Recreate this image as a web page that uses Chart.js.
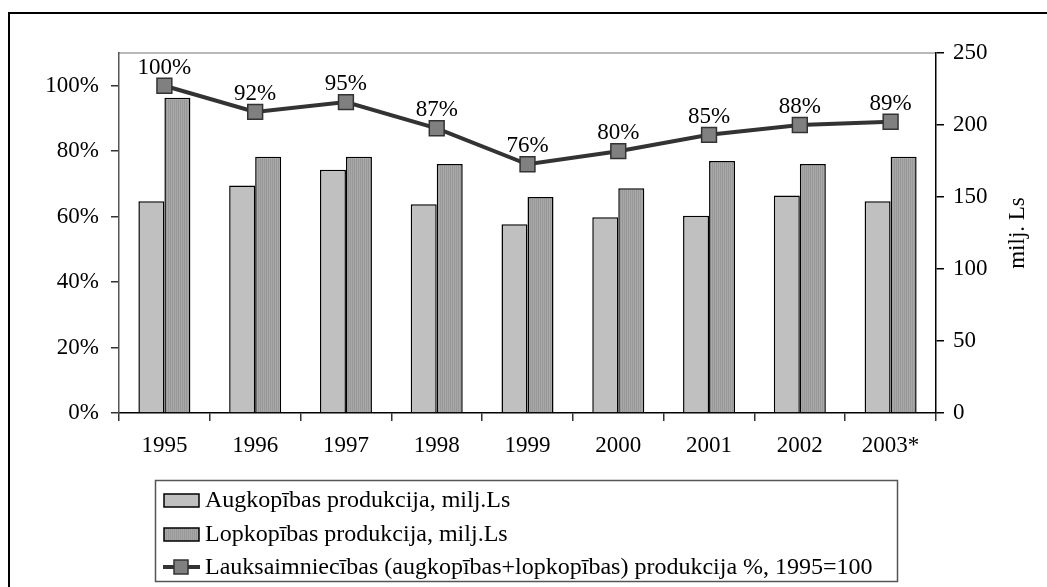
<!DOCTYPE html>
<html lang="lv">
<head>
<meta charset="UTF-8">
<title>Augkopības un lopkopības produkcija</title>
<script src="https://cdn.jsdelivr.net/npm/chart.js@4.4.1/dist/chart.umd.min.js"></script>
<style>
    body { margin: 0; background: #fff; }
    #wrap { width: 1047px; height: 587px; }
</style>
</head>
<body>
<div id="wrap"><canvas id="chart" width="1047" height="587"></canvas></div>
<script>
    // data
    const years = ['1995', '1996', '1997', '1998', '1999', '2000', '2001', '2002', '2003*'];
    const augkopiba = [147, 158, 169, 145, 131, 136, 137, 151, 147];
    const lopkopiba = [219, 178, 178, 173, 150, 156, 175, 173, 178];
    const lauksaimPct = [100, 92, 95, 87, 76, 80, 85, 88, 89];
    const pctTicks = [0, 20, 40, 60, 80, 100];
    const milTicks = [0, 50, 100, 150, 200, 250];
    const seriesNames = [
        'Augkopības produkcija, milj.Ls',
        'Lopkopības produkcija, milj.Ls',
        'Lauksaimniecības (augkopības+lopkopības) produkcija %, 1995=100'
    ];
    const rightTitle = 'milj. Ls';

    const FONT = "'Liberation Serif', 'Times New Roman', serif";

    // fine vertical stripes for the second bar series
    function stripes() {
        const c = document.createElement('canvas');
        c.width = 2; c.height = 2;
        const g = c.getContext('2d');
        g.fillStyle = '#989898'; g.fillRect(0, 0, 1, 2);
        g.fillStyle = '#a8a8a8'; g.fillRect(1, 0, 1, 2);
        return g.createPattern(c, 'repeat');
    }
    const darkFill = stripes();

    const decor = {
        id: 'decor',
        beforeDraw(chart) {
            const ctx = chart.ctx;
            const a = chart.chartArea;
            ctx.save();
            // outer frame
            ctx.strokeStyle = '#000';
            ctx.lineWidth = 2;
            ctx.strokeRect(9, 13, 1200, 800);
            // plot area top edge
            ctx.strokeStyle = '#a0a0a0';
            ctx.lineWidth = 1.5;
            ctx.beginPath();
            ctx.moveTo(a.left, a.top);
            ctx.lineTo(a.right, a.top);
            ctx.stroke();
            ctx.restore();
        },
        afterDatasetsDraw(chart) {
            const ctx = chart.ctx;
            const meta = chart.getDatasetMeta(2);
            ctx.save();
            ctx.font = '23px ' + FONT;
            ctx.fillStyle = '#000';
            ctx.textAlign = 'center';
            ctx.textBaseline = 'alphabetic';
            meta.data.forEach((pt, i) => {
                ctx.fillText(lauksaimPct[i] + '%', pt.x, pt.y - 12);
            });
            ctx.restore();
        },
        afterDraw(chart) {
            const ctx = chart.ctx;
            const a = chart.chartArea;
            ctx.save();
            // right axis title, reading upwards
            ctx.font = '23px ' + FONT;
            ctx.fillStyle = '#000';
            ctx.translate(1018, (a.top + a.bottom) / 2);
            ctx.rotate(-Math.PI / 2);
            ctx.textAlign = 'center';
            ctx.textBaseline = 'middle';
            ctx.fillText(rightTitle, 0, 0);
            ctx.restore();

            // legend box
            ctx.save();
            ctx.strokeStyle = '#555';
            ctx.lineWidth = 1.5;
            ctx.strokeRect(155.5, 480.5, 742, 101);
            ctx.font = '24px ' + FONT;
            ctx.fillStyle = '#000';
            ctx.textBaseline = 'middle';
            const rows = [500, 534, 567];
            const ds = chart.data.datasets;
            rows.forEach((y, i) => {
                const d = ds[i];
                if (d.type === 'line') {
                    ctx.strokeStyle = d.borderColor;
                    ctx.lineWidth = 4;
                    ctx.beginPath();
                    ctx.moveTo(163, y);
                    ctx.lineTo(200, y);
                    ctx.stroke();
                    ctx.fillStyle = d.pointBackgroundColor;
                    ctx.fillRect(174, y - 7, 14, 14);
                    ctx.strokeStyle = d.pointBorderColor;
                    ctx.lineWidth = 1.5;
                    ctx.strokeRect(174, y - 7, 14, 14);
                } else {
                    ctx.fillStyle = d.backgroundColor;
                    ctx.fillRect(164, y - 6, 35, 13);
                    ctx.strokeStyle = '#000';
                    ctx.lineWidth = 1.5;
                    ctx.strokeRect(164, y - 6, 35, 13);
                }
                ctx.fillStyle = '#000';
                ctx.fillText(d.label, 205, y + 1);
            });
            ctx.restore();
        }
    };

    new Chart(document.getElementById('chart'), {
        data: {
            labels: years,
            datasets: [
                {
                    type: 'bar',
                    label: seriesNames[0],
                    data: augkopiba,
                    yAxisID: 'yR',
                    backgroundColor: '#c0c0c0',
                    borderColor: '#000',
                    borderWidth: 1.5,
                    categoryPercentage: 0.573,
                    barPercentage: 1,
                    order: 1
                },
                {
                    type: 'bar',
                    label: seriesNames[1],
                    data: lopkopiba,
                    yAxisID: 'yR',
                    backgroundColor: darkFill,
                    borderColor: '#000',
                    borderWidth: 1.5,
                    categoryPercentage: 0.573,
                    barPercentage: 1,
                    order: 1
                },
                {
                    type: 'line',
                    label: seriesNames[2],
                    data: lauksaimPct,
                    yAxisID: 'yL',
                    borderColor: '#333333',
                    borderWidth: 4,
                    pointStyle: 'rect',
                    pointRadius: 10.5,
                    pointBackgroundColor: '#808080',
                    pointBorderColor: '#333333',
                    pointBorderWidth: 1.5,
                    tension: 0,
                    order: 0
                }
            ]
        },
        options: {
            responsive: false,
            devicePixelRatio: 1,
            animation: false,
            layout: { padding: { top: 53, left: 0, right: 0, bottom: 0 } },
            plugins: {
                legend: { display: false },
                tooltip: { enabled: false }
            },
            scales: {
                x: {
                    grid: { offset: true, drawOnChartArea: false, tickLength: 8, color: '#333', lineWidth: 1.5 },
                    border: { color: '#000', width: 1.5 },
                    ticks: { color: '#000', font: { family: FONT, size: 23 }, padding: 11, maxRotation: 0 },
                    afterFit(s) { s.height = 174; }
                },
                yL: {
                    type: 'linear',
                    position: 'left',
                    min: 0,
                    max: 110,
                    afterBuildTicks(s) { s.ticks = pctTicks.map(v => ({ value: v })); },
                    grid: { drawOnChartArea: false, tickLength: 8, color: '#333', lineWidth: 1.5 },
                    border: { color: '#555', width: 1.5 },
                    ticks: { color: '#000', font: { family: FONT, size: 23 }, padding: 12, callback: v => v + '%' },
                    afterFit(s) { s.width = 119; }
                },
                yR: {
                    type: 'linear',
                    position: 'right',
                    min: 0,
                    max: 250,
                    afterBuildTicks(s) { s.ticks = milTicks.map(v => ({ value: v })); },
                    grid: { drawOnChartArea: false, tickLength: 8, color: '#000', lineWidth: 1.5 },
                    border: { color: '#000', width: 1.5 },
                    ticks: { color: '#000', font: { family: FONT, size: 23 }, padding: 9 },
                    afterFit(s) { s.width = 111; }
                }
            }
        },
        plugins: [decor]
    });
</script>
</body>
</html>
